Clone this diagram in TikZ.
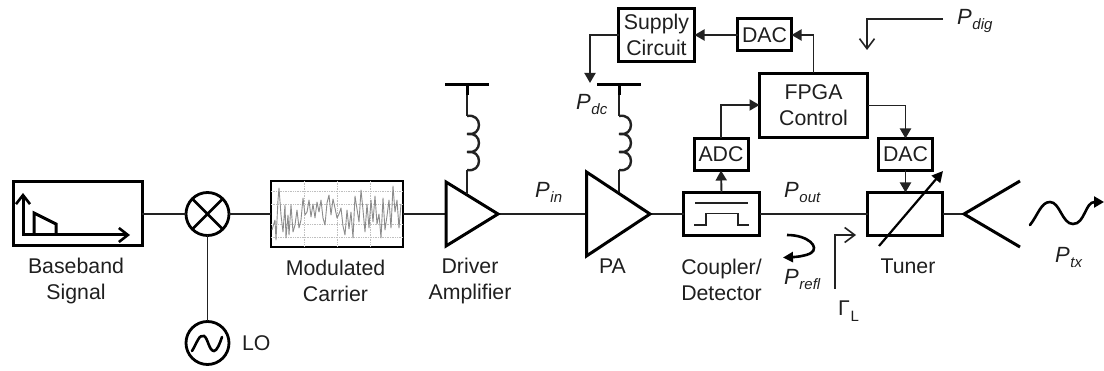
\documentclass[tikz,border=0pt]{standalone}
\usepackage{fontspec}
\setmainfont{Liberation Sans}
\usetikzlibrary{arrows.meta}
\definecolor{wire}{HTML}{222222}
\newcommand{\Psub}[1]{{\fontsize{22}{26}\selectfont\itshape P}\hspace{0.8pt}\raisebox{-5pt}{\fontsize{15}{15}\selectfont\itshape #1}}
\newcommand{\coilpath}[1]{(#1) .. controls +(16,-3) and +(16,3) .. ++(0,18) .. controls +(16,-3) and +(16,3) .. ++(0,18) .. controls +(16,-3) and +(16,3) .. ++(0,18)}
\tikzset{
  x=1pt,y=-1pt,
  every node/.style={font=\fontsize{21.3}{26}\selectfont,inner sep=0pt,outer sep=0pt,align=center,text=black!88},
  tbox/.style={draw=black,line width=3pt,fill=white},
  ringnode/.style={draw=black,line width=2.8pt,shape=circle,minimum size=43pt},
  thin wire/.style={draw=wire,line width=1.9pt},
  thick line/.style={draw=black,line width=3pt},
  sig/.style={thin wire,-{Triangle[length=10pt,width=11pt]}},
  openarr/.style={thin wire,-{Straight Barb[length=10pt,width=15pt,line width=1.6pt]}},
  plabel/.style={anchor=base west},
  capt/.style={anchor=center},
}
\begin{document}
\begin{tikzpicture}
\useasboundingbox (0,0) rectangle (1104,371);
% triangle coordinates
\coordinate (drvT) at (446,182); \coordinate (drvB) at (446,246); \coordinate (drvO) at (498,214); \coordinate (drvI) at (446,214);
\coordinate (paT) at (586.5,172); \coordinate (paB) at (586.5,256); \coordinate (paO) at (650,214); \coordinate (paI) at (586.5,214);
\coordinate (antTip) at (964,214); \coordinate (antU) at (1020,181); \coordinate (antD) at (1020,247);
% boxes
\node[tbox,minimum width=129pt,minimum height=64pt] (bb) at (77.5,214) {};
\node[ringnode] (mix) at (207.5,214) {};
\node[ringnode] (lo) at (207.5,343) {};
\node[draw=black,line width=1.5pt,fill=white,minimum width=132pt,minimum height=66pt] (car) at (337,214) {};
\node[tbox,minimum width=76pt,minimum height=43pt] (cpl) at (721.5,214) {};
\node[tbox,minimum width=54pt,minimum height=32pt] (adc) at (721,154.5) {ADC};
\node[tbox,minimum width=108pt,minimum height=64pt,text depth=0pt] (fpga) at (813.5,105.5) {FPGA\\Control};
\node[tbox,minimum width=54pt,minimum height=32pt] (dacr) at (905.5,154.5) {DAC};
\node[tbox,minimum width=54pt,minimum height=32pt] (dact) at (764.5,35) {DAC};
\node[tbox,minimum width=76pt,minimum height=53pt] (sup) at (656.5,35) {Supply\\Circuit};
\node[tbox,fill=none,minimum width=75pt,minimum height=43pt] (tun) at (905,214) {};
% baseband icon
\coordinate (axO) at (23,235);
\draw[thick line,line join=miter,{Straight Barb[length=9pt,width=14pt,line width=2.6pt]}-{Straight Barb[length=9pt,width=14pt,line width=2.6pt]}] (23,193) -- (axO) -- (130,235);
\draw[thick line,line join=miter] (34,235) -- (34,213) -- (56,224) -- (56,235);
% mixer and LO
\draw[line width=2.8pt] (mix.45) -- (mix.225) (mix.135) -- (mix.315);
\draw[line width=2.6pt,line cap=round] (192,351) .. controls (197,343) and (199,334) .. (204,336) .. controls (208,338) and (209,351) .. (214,351) .. controls (217,351) and (220,343) .. (222,337);
% carrier trace
\begin{scope}
\clip (car.south west) rectangle (car.north east);
\draw[black!25,line width=.7pt,densely dotted] (271,191) -- (403,191) (271,204) -- (403,204) (271,224) -- (403,224) (271,237) -- (403,237) (304,181) -- (304,247) (337,181) -- (337,247) (370,181) -- (370,247);
\draw[black!45,line width=.9pt,line join=round] (272,230) -- (275,220) -- (276,240) -- (278,200) -- (279,188) -- (281,215) -- (283,232) -- (285,205) -- (286,238) -- (288,215) -- (289,235) -- (291,205) -- (293,232) -- (295,225) -- (297,210) -- (299,228) -- (301,220) -- (303,198) -- (305,215) -- (307,212) -- (309,200) -- (311,217) -- (313,204) -- (315,218) -- (317,202) -- (319,212) -- (321,200) -- (323,218) -- (325,225) -- (327,203) -- (329,195) -- (331,215) -- (333,199) -- (335,208) -- (337,218) -- (339,214) -- (341,208) -- (343,226) -- (345,235) -- (347,210) -- (349,229) -- (351,212) -- (353,238) -- (355,196) -- (357,209) -- (359,222) -- (361,190) -- (363,210) -- (365,232) -- (367,204) -- (369,228) -- (371,200) -- (373,222) -- (375,196) -- (377,224) -- (379,214) -- (381,238) -- (383,198) -- (385,230) -- (387,216) -- (389,200) -- (391,228) -- (393,186) -- (395,212) -- (397,200) -- (399,228) -- (401,204);
\end{scope}
% wires
\draw[thin wire] (bb) -- (mix);
\draw[thin wire] (mix) -- (car);
\draw[thin wire] (mix) -- (lo);
\draw[thin wire] (car) -- (drvI);
\draw[thin wire] (drvO) -- (paI);
\draw[thin wire] (paO) -- (cpl);
\draw[thin wire] (cpl) -- (tun);
\draw[thin wire] (tun) -- (antTip);
% amplifiers
\draw[thick line,line join=miter] (drvT) -- (drvO) -- (drvB) -- cycle;
\draw[thick line,line join=miter] (paT) -- (paO) -- (paB) -- cycle;
% coils & bars
\coordinate (drvBar) at (467,84.5); \coordinate (paBar) at (619,84.5);
\draw[line width=3pt] (445,84.5) -- (489,84.5) (drvBar) -- (467,95);
\draw[line width=3pt] (597,84.5) -- (641,84.5) (paBar) -- (619,95);
\coordinate (drvC) at (467,116); \coordinate (paC) at (619,116);
\draw[thin wire] (467,95) -- (drvC);
\draw[thin wire] (619,95) -- (paC);
\draw[thin wire,line width=2.4pt] \coilpath{drvC};
\draw[thin wire,line width=2.4pt] \coilpath{paC};
\draw[thin wire] (467,170) -- (467,194);
\draw[thin wire] (619,170) -- (619,192);
% coupler symbol
\draw[thin wire,line width=1.5pt] (695,203) -- (748,203);
\draw[thin wire,line width=1.5pt] (694,225) -- (706,225) -- (706,213.5) -- (738,213.5) -- (738,225) -- (749,225);
% antenna
\draw[thick line,line join=miter] (antU) -- (antTip) -- (antD);
\draw[line width=2.6pt,line cap=round,-{Triangle[length=10pt,width=11pt]}] (1030,225) .. controls (1038,215) and (1041,202) .. (1050,202) .. controls (1060,202) and (1062,224) .. (1073,224) .. controls (1085,224) and (1085,202) .. (1104,202);
% control
\draw[sig] (cpl.north) -- (adc.south);
\draw[sig] (adc.north) |- (fpga.west |- 0,105);
\draw[sig] (fpga.north) |- (dact.east);
\draw[sig] (dact.west) -- (sup.east);
\coordinate (vdd) at (590,83);
\draw[sig] (sup.west) -| (vdd);
\draw[sig] (fpga.east) -| (dacr.north);
\draw[sig] (dacr.south) -- (tun.north -| dacr.south);
% tuner arrow
\coordinate (tunA) at (879,246); \coordinate (tunB) at (943,171);
\draw[line width=2.2pt,-{Triangle[length=11pt,width=11pt]}] (tunA) -- (tunB);
% open arrows
\coordinate (digS) at (943,19); \coordinate (digE) at (867,50);
\draw[openarr] (digS) -| (digE);
\coordinate (gamS) at (835,289); \coordinate (gamE) at (856,235);
\draw[openarr] (gamS) |- (gamE);
% reflected
\coordinate (reflS) at (787,235); \coordinate (reflE) at (783,257.5);
\draw[line width=2.6pt,-{Triangle[length=10pt,width=10pt]}] (reflS) .. controls (808,235) and (820,247) .. (811,253) .. controls (806,256) and (796,257) .. (reflE);
% captions
\node[capt] (t1) at (76,281) {Baseband\\Signal};
\node[capt] (t2) at (335.5,281) {Modulated\\Carrier};
\node[capt] (t3) at (470,281) {Driver\\Amplifier};
\node[capt] (t4) at (612.5,266) {PA};
\node[capt] (t5) at (721.5,280) {Coupler/\\Detector};
\node[capt] (t6) at (908,266) {Tuner};
\node[capt,anchor=west] (t7) at (242,343) {LO};
% power labels
\node[plabel] (pin) at (535,198) {\Psub{in}};
\node[plabel] (pout) at (784,198) {\Psub{out}};
\node[plabel] (pdc) at (576,110) {\Psub{dc}};
\node[plabel] (pdig) at (957,25) {\Psub{dig}};
\node[plabel] (prefl) at (784,285) {\Psub{refl}};
\node[plabel] (ptx) at (1055,263) {\Psub{tx}};
\node[plabel] (gam) at (838,316) {Γ\hspace{1pt}\raisebox{-6pt}{\fontsize{15}{15}\selectfont L}};
\end{tikzpicture}
\end{document}
